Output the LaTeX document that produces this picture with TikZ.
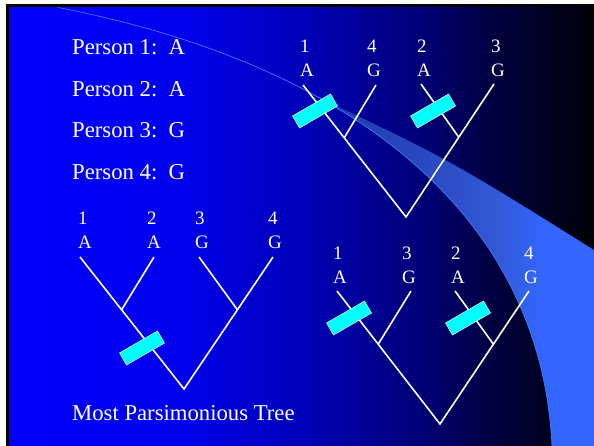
\documentclass[tikz,border=0pt]{standalone}
\usepackage{fontspec}
\setmainfont{Liberation Serif}
\usepackage{tikz}
\usetikzlibrary{calc}
\usepackage{xcolor}

\definecolor{slideblue}{RGB}{0,0,255}
\definecolor{slideblueb}{RGB}{0,0,235}
\definecolor{slidebluec}{RGB}{0,0,185}
\definecolor{slideblued}{RGB}{0,0,120}
\definecolor{slidebluee}{RGB}{0,0,55}
\definecolor{slideend}{RGB}{0,0,8}
\definecolor{swooshdark}{RGB}{30,55,165}
\definecolor{swooshmid}{RGB}{42,75,195}
\definecolor{swooshmidb}{RGB}{50,90,215}
\definecolor{swooshlight}{RGB}{51,102,255}
\definecolor{swooshedge}{RGB}{70,120,255}
\definecolor{mutcyan}{RGB}{0,255,255}

\pgfdeclarehorizontalshading{slidebg}{100bp}{color(0bp)=(slideblue); color(25bp)=(slideblue); color(40bp)=(slideblueb); color(50bp)=(slidebluec); color(60bp)=(slideblued); color(67.5bp)=(slidebluee); color(75bp)=(slideend); color(100bp)=(slideend)}
\pgfdeclarehorizontalshading{swooshshade}{100bp}{color(0bp)=(swooshdark); color(25bp)=(swooshdark); color(47bp)=(swooshmid); color(58bp)=(swooshmidb); color(66bp)=(swooshlight); color(100bp)=(swooshlight)}

\begin{document}
\begin{tikzpicture}[x=1pt, y=-1pt,
    person/.style={anchor=base west, inner sep=0pt, text=white, font=\fontsize{22.7}{27}\selectfont},
    leaf/.style={anchor=west, inner sep=0pt, align=left, text=white, font=\fontsize{19}{24}\selectfont},
    branch/.style={draw=white, line width=1.6pt},
    mutation/.style={draw=white, line width=0.4pt, fill=mutcyan, minimum width=44pt, minimum height=14pt, inner sep=0pt, rotate=30},
    swooshline/.style={draw=swooshedge, line width=0.7pt}
]

% Slide background
\useasboundingbox (0,0) rectangle (594,446);
\fill[white] (0,0) rectangle (594,446);
\fill[black] (5.5,4.5) rectangle (594,446);
\shade[shading=slidebg] (9,7.5) rectangle (594,446);

% Swoosh
\shade[shading=swooshshade] (315.5,95.7) .. controls (450,160) .. (594,250) -- (594,446) -- (552,446)
    .. controls (544.2,286.1) and (452.7,171) .. (315.5,95.7) -- cycle;
\draw[swooshline] (58,7.5) .. controls (154.5,26.2) and (241.65,55.18) .. (315.5,95.7)
    .. controls (452.7,171) and (544.2,286.1) .. (552,446);

% Persons
\node[person] (p1) at (72,55) {Person 1:\ \ A};
\node[person] (p2) at (72,96.5) {Person 2:\ \ A};
\node[person] (p3) at (72,138) {Person 3:\ \ G};
\node[person] (p4) at (72,179.5) {Person 4:\ \ G};

% Tree 1 (top right)
\node[leaf] (t1a) at (300,58.5) {1\\A};
\node[leaf] (t1b) at (367,58.5) {4\\G};
\node[leaf] (t1c) at (417,58.5) {2\\A};
\node[leaf] (t1d) at (491,58.5) {3\\G};
\coordinate (t1l1) at (303,85);
\coordinate (t1l2) at (376,85);
\coordinate (t1l3) at (421,84);
\coordinate (t1l4) at (494,84);
\coordinate (t1root) at (406,217);
\coordinate (t1in1) at ($(t1l1)!0.4!(t1root)$);
\coordinate (t1in2) at ($(t1l4)!0.4!(t1root)$);
\draw[branch] (t1l1) -- (t1root) -- (t1l4);
\draw[branch] (t1l2) -- (t1in1);
\draw[branch] (t1l3) -- (t1in2);
\node[mutation] (t1m1) at (315,111) {};
\node[mutation] (t1m2) at (433,111) {};

% Tree 2 (most parsimonious)
\node[leaf] (t2a) at (78,230.5) {1\\A};
\node[leaf] (t2b) at (147,230.5) {2\\A};
\node[leaf] (t2c) at (195,230.5) {3\\G};
\node[leaf] (t2d) at (268,230.5) {4\\G};
\coordinate (t2l1) at (80,257);
\coordinate (t2l2) at (154,257);
\coordinate (t2l3) at (199,257);
\coordinate (t2l4) at (273,257);
\coordinate (t2root) at (184,389);
\coordinate (t2in1) at ($(t2l1)!0.4!(t2root)$);
\coordinate (t2in2) at ($(t2l4)!0.4!(t2root)$);
\draw[branch] (t2l1) -- (t2root) -- (t2l4);
\draw[branch] (t2l2) -- (t2in1);
\draw[branch] (t2l3) -- (t2in2);
\node[mutation] (t2m1) at (142,348) {};
\node[person] (caption) at (72,420) {Most Parsimonious Tree};

% Tree 3 (bottom right)
\node[leaf] (t3a) at (333,265.3) {1\\A};
\node[leaf] (t3b) at (402,265.3) {3\\G};
\node[leaf] (t3c) at (451,265.3) {2\\A};
\node[leaf] (t3d) at (524,265.3) {4\\G};
\coordinate (t3l1) at (337,291);
\coordinate (t3l2) at (411,291);
\coordinate (t3l3) at (455,291);
\coordinate (t3l4) at (529,291);
\coordinate (t3root) at (440,424);
\coordinate (t3in1) at ($(t3l1)!0.4!(t3root)$);
\coordinate (t3in2) at ($(t3l4)!0.4!(t3root)$);
\draw[branch] (t3l1) -- (t3root) -- (t3l4);
\draw[branch] (t3l2) -- (t3in1);
\draw[branch] (t3l3) -- (t3in2);
\node[mutation] (t3m1) at (349,318) {};
\node[mutation] (t3m2) at (468,318) {};

\end{tikzpicture}
\end{document}
